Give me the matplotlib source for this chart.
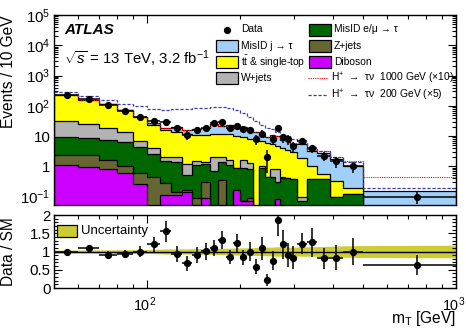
import numpy as np
import matplotlib
matplotlib.use("Agg")
import matplotlib.pyplot as plt
from matplotlib.patches import Rectangle
from matplotlib.lines import Line2D
from matplotlib.transforms import ScaledTranslation
from matplotlib.ticker import (LogLocator, NullFormatter, FixedLocator,
                               MultipleLocator, FuncFormatter)

plt.rcParams["font.family"] = ["Liberation Sans", "DejaVu Sans"]
plt.rcParams["mathtext.fontset"] = "custom"
plt.rcParams["mathtext.rm"] = "Liberation Sans"
plt.rcParams["mathtext.it"] = "Liberation Sans:italic"
plt.rcParams["mathtext.bf"] = "Liberation Sans:bold"

# mT binning [GeV]
edges = [50, 60, 70, 80, 90, 100, 110, 120, 130, 140, 150, 160, 170, 180, 190,
         200, 210, 220, 230, 240, 250, 260, 270, 280, 290, 305, 330, 355, 390,
         430, 500, 1000]

# observed events per bin
data_counts = [224, 174, 106, 68, 44, 32, 29, 18, 11, 16, 19, 27, 29, 19, 22,
               17, 16, 8, 12, 2, 8, 18, 9, 8, 7, 17, 10, 8, 6, 7, 5]

# backgrounds, events / 10 GeV
diboson = [1.1, 0.94, 0.85, 0.62, 0.27, 0, 0.11, 0.11, 0.14, 0, 0.087, 0, 0, 0,
           0.16, 0.07, 0.07, 0, 0, 0, 0, 0.085, 0, 0, 0, 0, 0, 0, 0, 0, 0]
zjets = [1.2, 1.46, 0.75, 0.43, 0.33, 0.44, 0.17, 0.03, 0.02, 0.09, 0.213, 0,
         0.36, 0, 0, 0, 0.02, 0, 0, 0, 0, 0, 0, 0, 0, 0, 0, 0, 0, 0, 0]
fake_lep = [7.3, 6.0, 5.6, 5.25, 3.8, 2.16, 1.22, 1.23, 0.34, 1.01, 0.9, 0.73,
            1.02, 1.1, 0.74, 0.83, 0.71, 0, 0.9, 0.45, 0.45, 0.215, 0.4, 0.4,
            0.38, 0.07, 0.38, 0.38, 0.1, 0.12, 0]
wjets = [21.4, 16.3, 10.8, 7.7, 2.6, 1.6, 0.5, 0.63, 0.7, 0.4, 0.2, 1.27, 0.62,
         0.5, 0, 0.7, 0.5, 0, 0.15, 0, 0.35, 0.53, 0.05, 0, 0, 0.03, 0, 0, 0, 0, 0]
top = [195, 131.3, 96, 57, 35, 19.8, 13.5, 11.8, 10.4, 9.5, 9.6, 9.6, 9.6, 10.0,
       9.1, 7.5, 7.0, 7.5, 5.75, 5.45, 4.7, 3.97, 3.55, 3.1, 2.52, 1.8, 0.67,
       0.19, 0.23, 0.08, 0]
fake_jet = [3, 2, 2, 2, 2, 2.7, 3.2, 5.5, 4.5, 6.7, 7.9, 12.9, 10.3, 10.8, 7.9,
            11, 7.7, 6.2, 4.2, 3.1, 5.2, 4.9, 3.5, 5.3, 2.7, 3.7, 2.15, 2.23,
            1.47, 0.8, 0.158]

# signal hypotheses, events / 10 GeV (unscaled)
hp1000 = [0.005, 0.005, 0.005, 0.005, 0.005, 0.005, 0.005, 0.005, 0.005, 0.005,
          0.005, 0.01, 0.01, 0.01, 0.01, 0.01, 0.01, 0.01, 0.01, 0.01, 0.01,
          0.015, 0.015, 0.015, 0.02, 0.025, 0.03, 0.035, 0.03, 0.05, 0.03]
hp200 = [10, 11, 9, 9.2, 11, 10.4, 11.2, 11.6, 12.6, 12.8, 13.4, 13.8, 14, 12.8,
         11, 7.6, 5.2, 3.4, 2.6, 1.8, 1.2, 0.8, 0.6, 0.3, 0.48, 0.2, 0.1, 0.07,
         0.05, 0.07, 0.008]

# relative systematic uncertainty on the SM prediction
syst = [0.04, 0.04, 0.045, 0.05, 0.05, 0.06, 0.07, 0.07, 0.07, 0.08, 0.08, 0.08,
        0.09, 0.09, 0.10, 0.10, 0.10, 0.11, 0.11, 0.12, 0.12, 0.13, 0.13, 0.12,
        0.12, 0.13, 0.13, 0.14, 0.15, 0.16, 0.17]

C_JET = "#a0cffa"
C_TOP = "#ffff00"
C_W = "#b3b3b3"
C_LEP = "#006600"
C_Z = "#666633"
C_VV = "#cc00ff"
C_BAND = "#cccc33"
C_H1000 = "#ff0000"
C_H200 = "#3a3aa8"
LS_H1000 = (0, (1, 1))
LS_H200 = (0, (2.5, 1.5))

W_PX, H_PX = 466, 329

edges = np.array(edges, float)
width = np.diff(edges)
centers = 0.5 * (edges[:-1] + edges[1:])
counts = np.array(data_counts, float)
data = counts * 10.0 / width
data_err = np.sqrt(counts) * 10.0 / width

layers = [np.array(v, float) for v in (diboson, zjets, fake_lep, wjets, top, fake_jet)]
colors = [C_VV, C_Z, C_LEP, C_W, C_TOP, C_JET]
cum = np.cumsum(layers, axis=0)
total = cum[-1]

fig = plt.figure(figsize=(W_PX / 100, H_PX / 100), dpi=100)
ax = fig.add_axes([0.1159, 0.3784, 0.8627, 0.5760])
rx = fig.add_axes([0.1159, 0.1246, 0.8627, 0.2219], sharex=ax)

# stacked backgrounds: each cumulative level filled, then outlined in black
floor = 1e-4
for level, col in reversed(list(zip(cum, colors))):
    ax.stairs(np.clip(level, floor, None), edges, baseline=floor, fill=True,
              facecolor=col, edgecolor="none", zorder=2)
    ax.stairs(np.clip(level, floor, None), edges, baseline=floor, fill=False,
              color="black", lw=0.9, zorder=2)

ax.stairs(total + 10 * np.array(hp1000), edges, baseline=None, color=C_H1000,
          ls=LS_H1000, lw=0.8, zorder=3)
ax.stairs(total + 5 * np.array(hp200), edges, baseline=None, color=C_H200,
          ls=LS_H200, lw=0.9, zorder=3)

ax.errorbar(centers, data, yerr=data_err, xerr=width / 2, fmt="o", color="black",
            ms=4.2, elinewidth=1.1, capsize=0, zorder=5)

ax.set_xscale("log")
ax.set_yscale("log")
ax.set_xlim(50, 1000)
ax.set_ylim(0.055, 1e5)

# ratio panel
ratio = data / total
ratio_err = data_err / total
band = np.array(syst)
bx = np.concatenate([[edges[0]], centers, [edges[-1]]])
by = np.concatenate([[band[0]], band, [band[-1]]])
rx.fill_between(bx, 1 - by, 1 + by, color=C_BAND, lw=0, zorder=1)
rx.axhline(1, color="black", lw=1.0, zorder=2)
rx.errorbar(centers, ratio, yerr=ratio_err, xerr=width / 2, fmt="o",
            color="black", ms=4.2, elinewidth=1.1, capsize=0, zorder=5)
rx.set_ylim(0, 2)
rx.yaxis.set_major_locator(FixedLocator([0, 0.5, 1, 1.5, 2]))
rx.yaxis.set_minor_locator(MultipleLocator(0.1))
rx.yaxis.set_major_formatter(FuncFormatter(lambda v, p: f"{v:g}"))

for a in (ax, rx):
    a.tick_params(which="both", direction="in", top=True, right=True,
                  labelsize=10.8, width=0.8, pad=2.5)
    a.tick_params(which="major", length=5.5)
    a.tick_params(which="minor", length=2.8)
    for s in a.spines.values():
        s.set_linewidth(1.0)


def log_label(v, pos):
    n = int(round(np.log10(v)))
    if n == 0:
        return "1"
    if n == 1:
        return "10"
    return rf"$10^{{{n}}}$"


ax.yaxis.set_major_locator(LogLocator(base=10, numticks=12))
ax.yaxis.set_major_formatter(FuncFormatter(log_label))
ax.yaxis.set_minor_locator(LogLocator(base=10, subs=np.arange(2, 10), numticks=12))
ax.yaxis.set_minor_formatter(NullFormatter())
ax.tick_params(axis="x", labelbottom=False)
rx.xaxis.set_major_locator(FixedLocator([100, 1000]))
rx.xaxis.set_major_formatter(FuncFormatter(log_label))
rx.xaxis.set_minor_locator(FixedLocator([50, 60, 70, 80, 90, 200, 300, 400, 500,
                                         600, 700, 800, 900]))
rx.xaxis.set_minor_formatter(NullFormatter())
rx.tick_params(axis="x", which="major", pad=5, labelsize=10.4)

ax.set_ylabel("Events / 10 GeV", fontsize=11.2, loc="top")
ax.yaxis.set_label_coords(-0.095, 1.0)
rx.set_ylabel("Data / SM", fontsize=11.2)
rx.yaxis.set_label_coords(-0.095, 0.5)
rx.set_xlabel(r"m$_{\mathrm{T}}$ [GeV]", fontsize=11.2, loc="right", labelpad=-3)

ax.text(0.025, 0.958, "ATLAS", transform=ax.transAxes, fontsize=11,
        fontweight="bold", style="italic", va="top")
ax.text(0.025, 0.82, r"$\sqrt{s}$ = 13 TeV, 3.2 fb$^{-1}$", transform=ax.transAxes,
        fontsize=10.7, va="top")


def fx(x):
    return x / W_PX


def fy(y):
    return 1 - y / H_PX


def legend_box(x, y, color, label, size=7.4, w=22, h=12, gap=3):
    fig.add_artist(Rectangle((fx(x), fy(y + h / 2)), w / W_PX, h / H_PX,
                             transform=fig.transFigure, facecolor=color,
                             edgecolor="black", lw=0.9))
    fig.text(fx(x + w + gap), fy(y), label, fontsize=size, va="center")


def legend_line(x, y, color, ls, lw, label, size=7.4, w=20, gap=3):
    fig.add_artist(Line2D([fx(x), fx(x + w)], [fy(y), fy(y)],
                          transform=fig.transFigure, color=color, ls=ls, lw=lw))
    fig.text(fx(x + w + gap), fy(y), label, fontsize=size, va="center")


# legend of the main panel, two columns
rows = [29.5, 46, 62, 78, 95]
fig.add_artist(Line2D([fx(227)], [fy(rows[0])], transform=fig.transFigure,
                      marker="o", ms=4.2, color="black", ls="none"))
fig.text(fx(241), fy(rows[0]), "Data", fontsize=7.4, va="center")
legend_box(216, rows[1], C_JET, "MisID j → τ")
legend_box(216, rows[2], C_TOP, r"$\mathrm{t\bar{t}}$ & single-top")
legend_box(216, rows[3], C_W, "W+jets")
legend_box(309, rows[0], C_LEP, "MisID e/μ → τ")
legend_box(309, rows[1], C_Z, "Z+jets")
legend_box(309, rows[2], C_VV, "Diboson")
legend_line(308, rows[3], C_H1000, LS_H1000, 0.8,
            r"H$^{+}$  →  τν  1000 GeV (×10)")
legend_line(308, rows[4], C_H200, LS_H200, 0.9,
            r"H$^{+}$  →  τν  200 GeV (×5)")

# legend of the ratio panel
legend_box(57, 231, C_BAND, "Uncertainty", size=9.5, w=20, h=12, gap=4)

# x tick labels sit slightly left of their ticks
shift = ScaledTranslation(-2.5 / 100, 0, fig.dpi_scale_trans)
for lab in rx.get_xticklabels():
    lab.set_transform(lab.get_transform() + shift)

fig.savefig("out.png", dpi=100)
